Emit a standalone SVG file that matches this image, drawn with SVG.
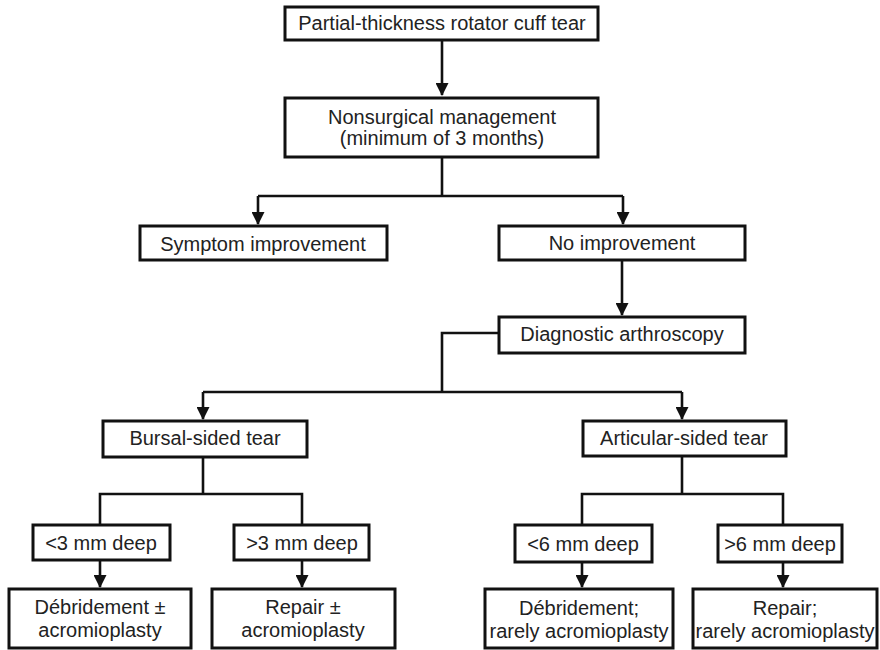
<svg xmlns="http://www.w3.org/2000/svg" width="880" height="650" viewBox="0 0 880 650">
<style>
.box{fill:#fff;stroke:#111;stroke-width:3}
.t{font-family:"Liberation Sans",Arial,sans-serif;font-size:20px;fill:#222;text-anchor:middle}
.c{fill:none;stroke:#111;stroke-width:2.6}
</style>
<defs>
<marker id="ah" markerUnits="userSpaceOnUse" markerWidth="13" markerHeight="13" viewBox="0 0 13 13" refX="12" refY="6.5" orient="auto">
<path d="M0,0 L13,6.5 L0,13 z" fill="#111"/>
</marker>
</defs>
<rect width="880" height="650" fill="#fff"/>
<g id="connectors">
<path class="c" d="M442,41 V95" marker-end="url(#ah)"/>
<path class="c" d="M442,158 V196"/>
<path class="c" d="M258,196 H623"/>
<path class="c" d="M258,196 V224" marker-end="url(#ah)"/>
<path class="c" d="M623,196 V224" marker-end="url(#ah)"/>
<path class="c" d="M622,261 V315" marker-end="url(#ah)"/>
<path class="c" d="M499,333 H442 V392"/>
<path class="c" d="M203,392 H682"/>
<path class="c" d="M203,392 V419" marker-end="url(#ah)"/>
<path class="c" d="M682,392 V419" marker-end="url(#ah)"/>
<path class="c" d="M203,457 V494"/>
<path class="c" d="M100,524 V494 H302 V524"/>
<path class="c" d="M682,456 V494"/>
<path class="c" d="M582,524 V494 H783 V524"/>
<path class="c" d="M100,561 V587" marker-end="url(#ah)"/>
<path class="c" d="M302,561 V587" marker-end="url(#ah)"/>
<path class="c" d="M582,562 V587" marker-end="url(#ah)"/>
<path class="c" d="M783,562 V587" marker-end="url(#ah)"/>
</g>
<g id="n1"><rect class="box" x="285" y="7" width="313" height="33"/><text class="t" x="442" y="30">Partial-thickness rotator cuff tear</text></g>
<g id="n2"><rect class="box" x="285" y="98" width="313" height="59"/><text class="t" x="442" y="124">Nonsurgical management</text><text class="t" x="442" y="145">(minimum of 3 months)</text></g>
<g id="n3"><rect class="box" x="140" y="226" width="247" height="34"/><text class="t" x="263" y="251">Symptom improvement</text></g>
<g id="n4"><rect class="box" x="499" y="226" width="246" height="34"/><text class="t" x="622" y="250">No improvement</text></g>
<g id="n5"><rect class="box" x="499" y="317" width="246" height="36"/><text class="t" x="622" y="341">Diagnostic arthroscopy</text></g>
<g id="n6"><rect class="box" x="103" y="421" width="204" height="36"/><text class="t" x="205" y="445">Bursal-sided tear</text></g>
<g id="n7"><rect class="box" x="583" y="421" width="203" height="35"/><text class="t" x="684" y="445">Articular-sided tear</text></g>
<g id="n8"><rect class="box" x="33" y="525" width="137" height="35"/><text class="t" x="101" y="550">&lt;3 mm deep</text></g>
<g id="n9"><rect class="box" x="234" y="525" width="135" height="35"/><text class="t" x="302" y="550">&gt;3 mm deep</text></g>
<g id="n10"><rect class="box" x="515" y="525" width="137" height="37"/><text class="t" x="583" y="551">&lt;6 mm deep</text></g>
<g id="n11"><rect class="box" x="718" y="525" width="124" height="37"/><text class="t" x="780" y="551">&gt;6 mm deep</text></g>
<g id="n12"><rect class="box" x="9" y="589" width="182" height="59"/><text class="t" x="100" y="614">Débridement ±</text><text class="t" x="100" y="637">acromioplasty</text></g>
<g id="n13"><rect class="box" x="212" y="589" width="183" height="59"/><text class="t" x="303" y="614">Repair ±</text><text class="t" x="303" y="637">acromioplasty</text></g>
<g id="n14"><rect class="box" x="485" y="589" width="188" height="59"/><text class="t" x="579" y="615">Débridement;</text><text class="t" x="579" y="638">rarely acromioplasty</text></g>
<g id="n15"><rect class="box" x="693" y="589" width="184" height="59"/><text class="t" x="785" y="615">Repair;</text><text class="t" x="785" y="638">rarely acromioplasty</text></g>
</svg>
